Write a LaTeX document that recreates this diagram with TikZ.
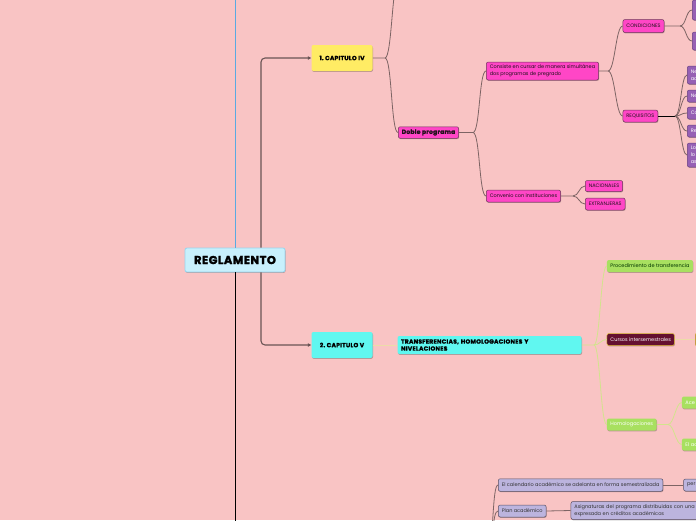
\documentclass[tikz,border=0pt]{standalone}
\usepackage{fontspec}
\setmainfont{Poppins}
\newfontfamily\heavyfont{Poppins}[BoldFeatures={FakeBold=2}, LetterSpace=4]
\usetikzlibrary{positioning,arrows.meta,shadows}

\definecolor{bgpink}{RGB}{249,196,196}
\definecolor{hubfill}{RGB}{200,240,252}
\definecolor{hubline}{RGB}{150,214,240}
\definecolor{capyel}{RGB}{255,236,100}
\definecolor{capcya}{RGB}{96,247,240}
\definecolor{magfill}{RGB}{255,70,198}
\definecolor{magline}{RGB}{110,55,90}
\definecolor{purfill}{RGB}{150,96,180}
\definecolor{purline}{RGB}{105,65,130}
\definecolor{grnfill}{RGB}{168,224,96}
\definecolor{maroon}{RGB}{100,16,48}
\definecolor{lavfill}{RGB}{188,180,222}
\definecolor{lavline}{RGB}{90,80,100}
\definecolor{linegrey}{RGB}{125,100,100}
\definecolor{linepale}{RGB}{236,220,168}
\definecolor{linegrn}{RGB}{210,228,140}
\definecolor{lineblue}{RGB}{90,170,225}

\begin{document}
\begin{tikzpicture}[x=1pt, y=-1pt,
  font=\fontsize{5}{6.8}\selectfont,
  box/.style={rectangle, rounded corners=2pt, line width=0.5pt, inner xsep=3.5pt, inner ysep=1pt,
              minimum height=12pt, align=left, anchor=west,
              drop shadow={shadow xshift=0.5pt, shadow yshift=-0.9pt, opacity=0.25, fill=black}},
  heavy/.style={font=\heavyfont\bfseries\fontsize{6}{7}\selectfont},
  hub/.style={box, anchor=center, align=center, draw=hubline, fill=hubfill, line width=0.8pt,
              minimum width=100pt, minimum height=24pt, font=\heavyfont\bfseries\fontsize{11.5}{12}\selectfont},
  chapbox/.style={box, heavy, anchor=center, align=center, draw=none, minimum width=61pt, minimum height=26pt},
  mag/.style={box, draw=magline, fill=magfill, text=magline!30!black},
  pur/.style={box, draw=purline, fill=purfill, text=white, text width=40pt},
  grn/.style={box, draw=none, fill=grnfill, text=white},
  mar/.style={box, draw=yellow!50!brown, fill=maroon, text=white},
  lav/.style={box, draw=lavline, fill=lavfill, text=black!80},
  trunk/.style={draw=linegrey!85!black, line width=1.1pt, rounded corners=4pt,
                -{Triangle[length=3.5pt,width=3.5pt]}},
  link/.style={draw=linegrey, line width=0.8pt},
  sbend/.style={to path={.. controls +(#1,0) and +(-#1,0) .. (\tikztotarget)}},
  sbend/.default=7
]
\useasboundingbox (0,0) rectangle (696,520);
\fill[bgpink] (0,0) rectangle (696,520);
\clip (0,0) rectangle (696,520);

% main topic and chapters
\node[hub] (regl) at (235,260) {REGLAMENTO};
\node[chapbox, fill=capyel] (cap4) at (342,58)  {1.\ CAPITULO IV};
\node[chapbox, fill=capcya] (cap5) at (342,345) {2.\ CAPITULO V};

\coordinate (topout) at (235,-5);
\coordinate (botout) at (235,530);
\draw[lineblue, line width=0.8pt] (regl.north) -- (topout);
\draw[black, line width=0.8pt] (regl.south) -- (botout);
\draw[trunk] ([xshift=26pt]regl.north) |- (cap4.west);
\draw[trunk] ([xshift=26pt]regl.south) |- (cap5.west);

% capitulo IV
\node[mag, heavy, minimum height=11.5pt] (doble) at (398,132.5) {Doble programa};
\node[mag, minimum height=18pt] (consiste) at (486,71)
  {Consiste en cursar de manera simult\'anea\\dos programas de pregrado};
\node[mag] (convenio) at (486,196) {Convenio con instituciones};
\node[mag, minimum height=11pt] (nac) at (585,186) {NACIONALES};
\node[mag] (ext) at (585,204) {EXTRANJERAS};
\node[mag, minimum height=13pt] (cond) at (622.7,26) {CONDICIONES};
\node[mag] (req) at (622.7,116) {REQUISITOS};

\node[pur, minimum height=20pt] (cnd1) at (692,10) {};
\node[pur, minimum height=18pt] (cnd2) at (692,41) {};
\node[pur, minimum height=18pt] (rq1) at (687,75)  {Ne\\ac};
\node[pur] (rq2) at (687,96)  {Ne};
\node[pur] (rq3) at (687,113) {Ca};
\node[pur] (rq4) at (687,131) {Re};
\node[pur, minimum height=24pt] (rq5) at (687,155) {Lo\\lo\\as};

\coordinate (s4) at (385,58);
\coordinate (up4) at (399,-22);
\draw[link] (cap4.east) -- (s4) to[sbend] (up4);
\draw[link] (s4) to[sbend] (doble.west);

\coordinate (sdob) at (473,132.5);
\draw[link] (doble.east) -- (sdob) to[sbend] (consiste.west);
\draw[link] (sdob) to[sbend] (convenio.west);

\coordinate (sconv) at (573,196);
\draw[link] (convenio.east) -- (sconv) to[sbend=6] (nac.west);
\draw[link] (sconv) to[sbend=6] (ext.west);

\coordinate (scons) at (608,71);
\draw[link] (consiste.east) -- (scons) to[sbend] (cond.west);
\draw[link] (scons) to[sbend] (req.west);

\coordinate (scond) at (680,26);
\draw[link] (cond.east) -- (scond) to[sbend=6] (cnd1.west);
\draw[link] (scond) to[sbend=6] (cnd2.west);

\coordinate (sreq) at (675,116);
\draw[black, line width=0.8pt] (req.east) -- (sreq);
\foreach \r in {rq1,rq2,rq3,rq4,rq5}
  \draw[link] (sreq) to[sbend=6] (\r.west);

% capitulo V
\node[box, heavy, draw=none, fill=capcya, text width=177pt, minimum height=18pt] (trans) at (397.3,345)
  {TRANSFERENCIAS, HOMOLOGACIONES Y\\NIVELACIONES};
\node[grn, text=green!20!black] (proc) at (606.7,266) {Procedimiento de transferencia};
\node[mar] (cursos) at (606.7,339.5) {Cursos intersemestrales};
\node[mar, minimum width=20pt, minimum height=13pt] (cursos2) at (695,339.5) {};
\node[grn] (homol) at (606.7,424.5) {Homologaciones};
\node[grn, text width=34pt] (acep) at (681.7,402.5) {Ace};
\node[grn, text width=34pt] (elac) at (681.7,444.5) {El ac};

\draw[linepale, line width=0.8pt] (cap5.east) -- (trans.west);
\coordinate (strans) at (594,345);
\draw[linegrn, line width=0.8pt] (trans.east) -- (strans) to[sbend=6] (proc.west);
\draw[linegrn, line width=0.8pt] (strans) to[sbend=6] (cursos.west);
\draw[linegrn, line width=0.8pt] (strans) to[sbend=6] (homol.west);
\draw[linepale, line width=0.8pt] (cursos.east) -- (cursos2.west);
\coordinate (shom) at (668,424.5);
\draw[linegrn, line width=0.8pt] (homol.east) -- (shom) to[sbend=6] (acep.west);
\draw[linegrn, line width=0.8pt] (shom) to[sbend=6] (elac.west);

% calendario
\node[lav, minimum height=12.5pt] (cal) at (498,485)
  {El calendario acad\'emico se adelanta en forma semestralizada};
\node[lav, text width=34pt] (per) at (683.3,485) {per};
\node[lav] (plan) at (498,511) {Plan acad\'emico};
\node[lav, text width=200pt, minimum height=18pt] (asig) at (570.7,510.5)
  {Asignaturas del programa distribuidas con una in\\expresada en cr\'editos acad\'emicos};

\coordinate (bcal) at (488,545);
\draw[link] (bcal) to[sbend=6] (cal.west);
\draw[link] (bcal) to[sbend=6] (plan.west);
\draw[link] (cal.east) -- (per.west);
\draw[link] (plan.east) -- (asig.west);
\end{tikzpicture}
\end{document}
